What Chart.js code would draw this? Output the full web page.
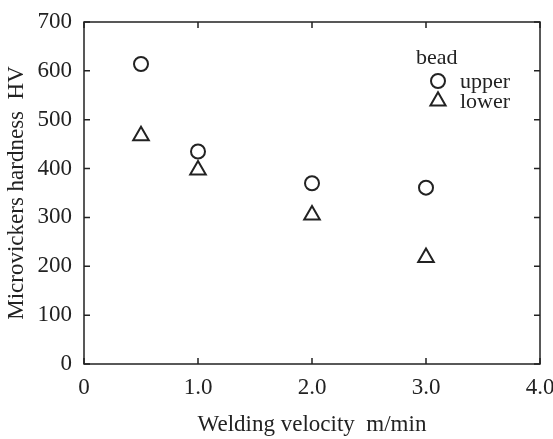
<!DOCTYPE html>
<html>
<head>
<meta charset="utf-8">
<script src="https://cdn.jsdelivr.net/npm/chart.js@4.4.1/dist/chart.umd.min.js"></script>
<style>
  html, body { margin: 0; padding: 0; background: #fff; }
  #wrap { width: 553px; height: 439px; position: relative; }
</style>
</head>
<body>
<div id="wrap"><canvas id="c" width="553" height="439"></canvas></div>
<script>
// ---- data ----
const velocities = [0.5, 1.0, 2.0, 3.0];
const upperHV = [614, 435, 370, 361];
const lowerHV = [467, 397, 305, 218];
const seriesNames = ['upper', 'lower'];
const legendTitle = 'bead';
const xTitle = 'Welding velocity  m/min';
const yTitle = 'Microvickers hardness  HV';

const INK = '#222';
const FONT = 'Liberation Serif';

const toPoints = (xs, ys) => xs.map((x, i) => ({ x: x, y: ys[i] }));

function drawMarker(ctx, style, x, y, r) {
  ctx.save();
  ctx.strokeStyle = INK;
  ctx.lineWidth = 2;
  ctx.beginPath();
  if (style === 'circle') {
    ctx.arc(x, y, r, 0, Math.PI * 2);
  } else {
    const R = r * 1.25;
    for (let k = 0; k < 3; k++) {
      const a = k * 2 * Math.PI / 3;
      const px = x + Math.sin(a) * R, py = y - Math.cos(a) * R;
      if (k === 0) ctx.moveTo(px, py); else ctx.lineTo(px, py);
    }
    ctx.closePath();
  }
  ctx.stroke();
  ctx.restore();
}

const framePlugin = {
  id: 'frame',
  afterDraw(chart) {
    const { ctx, chartArea: a, scales } = chart;
    ctx.save();
    ctx.strokeStyle = INK;
    ctx.lineWidth = 1.5;
    ctx.strokeRect(a.left, a.top, a.right - a.left, a.bottom - a.top);
    const L = 6;
    ctx.beginPath();
    scales.y.ticks.forEach(t => {
      const py = scales.y.getPixelForValue(t.value);
      ctx.moveTo(a.left, py); ctx.lineTo(a.left + L, py);
      ctx.moveTo(a.right, py); ctx.lineTo(a.right - L, py);
    });
    scales.x.ticks.forEach(t => {
      const px = scales.x.getPixelForValue(t.value);
      ctx.moveTo(px, a.bottom); ctx.lineTo(px, a.bottom - L);
      ctx.moveTo(px, a.top); ctx.lineTo(px, a.top + L);
    });
    ctx.stroke();

    // legend
    const lx = a.right - 124, ly = a.top + 36;
    ctx.fillStyle = INK;
    ctx.font = '22px "' + FONT + '"';
    ctx.textBaseline = 'middle';
    ctx.textAlign = 'left';
    ctx.fillText(legendTitle, lx, ly);
    const styles = ['circle', 'triangle'];
    seriesNames.forEach((n, i) => {
      const yy = ly + 23 + i * 20;
      drawMarker(ctx, styles[i], lx + 22, yy, 7);
      ctx.fillText(n, lx + 44, yy + 1);
    });
    ctx.restore();
  }
};

new Chart(document.getElementById('c'), {
  type: 'scatter',
  data: {
    datasets: [
      {
        label: seriesNames[0],
        data: toPoints(velocities, upperHV),
        pointStyle: 'circle',
        pointRadius: 7,
        pointHoverRadius: 7,
        pointBorderWidth: 2,
        pointBorderColor: INK,
        pointBackgroundColor: 'rgba(0,0,0,0)'
      },
      {
        label: seriesNames[1],
        data: toPoints(velocities, lowerHV),
        pointStyle: 'triangle',
        pointRadius: 9,
        pointHoverRadius: 9,
        pointBorderWidth: 2,
        pointBorderColor: INK,
        pointBackgroundColor: 'rgba(0,0,0,0)'
      }
    ]
  },
  options: {
    responsive: false,
    animation: false,
    layout: { padding: { top: 22, right: 13, left: 0, bottom: 0 } },
    plugins: { legend: { display: false }, tooltip: { enabled: false } },
    scales: {
      x: {
        type: 'linear', min: 0, max: 4,
        afterFit(s) { s.height = 439 - 364; s.paddingRight = 0; s.paddingLeft = 0; },
        grid: { display: false, drawTicks: false },
        border: { display: false },
        ticks: {
          stepSize: 1, padding: 10, color: INK,
          font: { family: FONT, size: 23 },
          callback: v => v === 0 ? '0' : v.toFixed(1)
        },
        title: {
          display: true, text: xTitle, color: INK,
          font: { family: FONT, size: 23 },
          padding: { top: 0, bottom: 0 }
        }
      },
      y: {
        type: 'linear', min: 0, max: 700,
        afterFit(s) { s.width = 84; s.paddingTop = 0; s.paddingBottom = 0; },
        grid: { display: false, drawTicks: false },
        border: { display: false },
        ticks: {
          stepSize: 100, padding: 12, color: INK,
          font: { family: FONT, size: 23 }
        },
        title: {
          display: true, text: yTitle, color: INK,
          font: { family: FONT, size: 23 },
          padding: { top: 3, bottom: 0 }
        }
      }
    }
  },
  plugins: [framePlugin]
});
</script>
</body>
</html>
